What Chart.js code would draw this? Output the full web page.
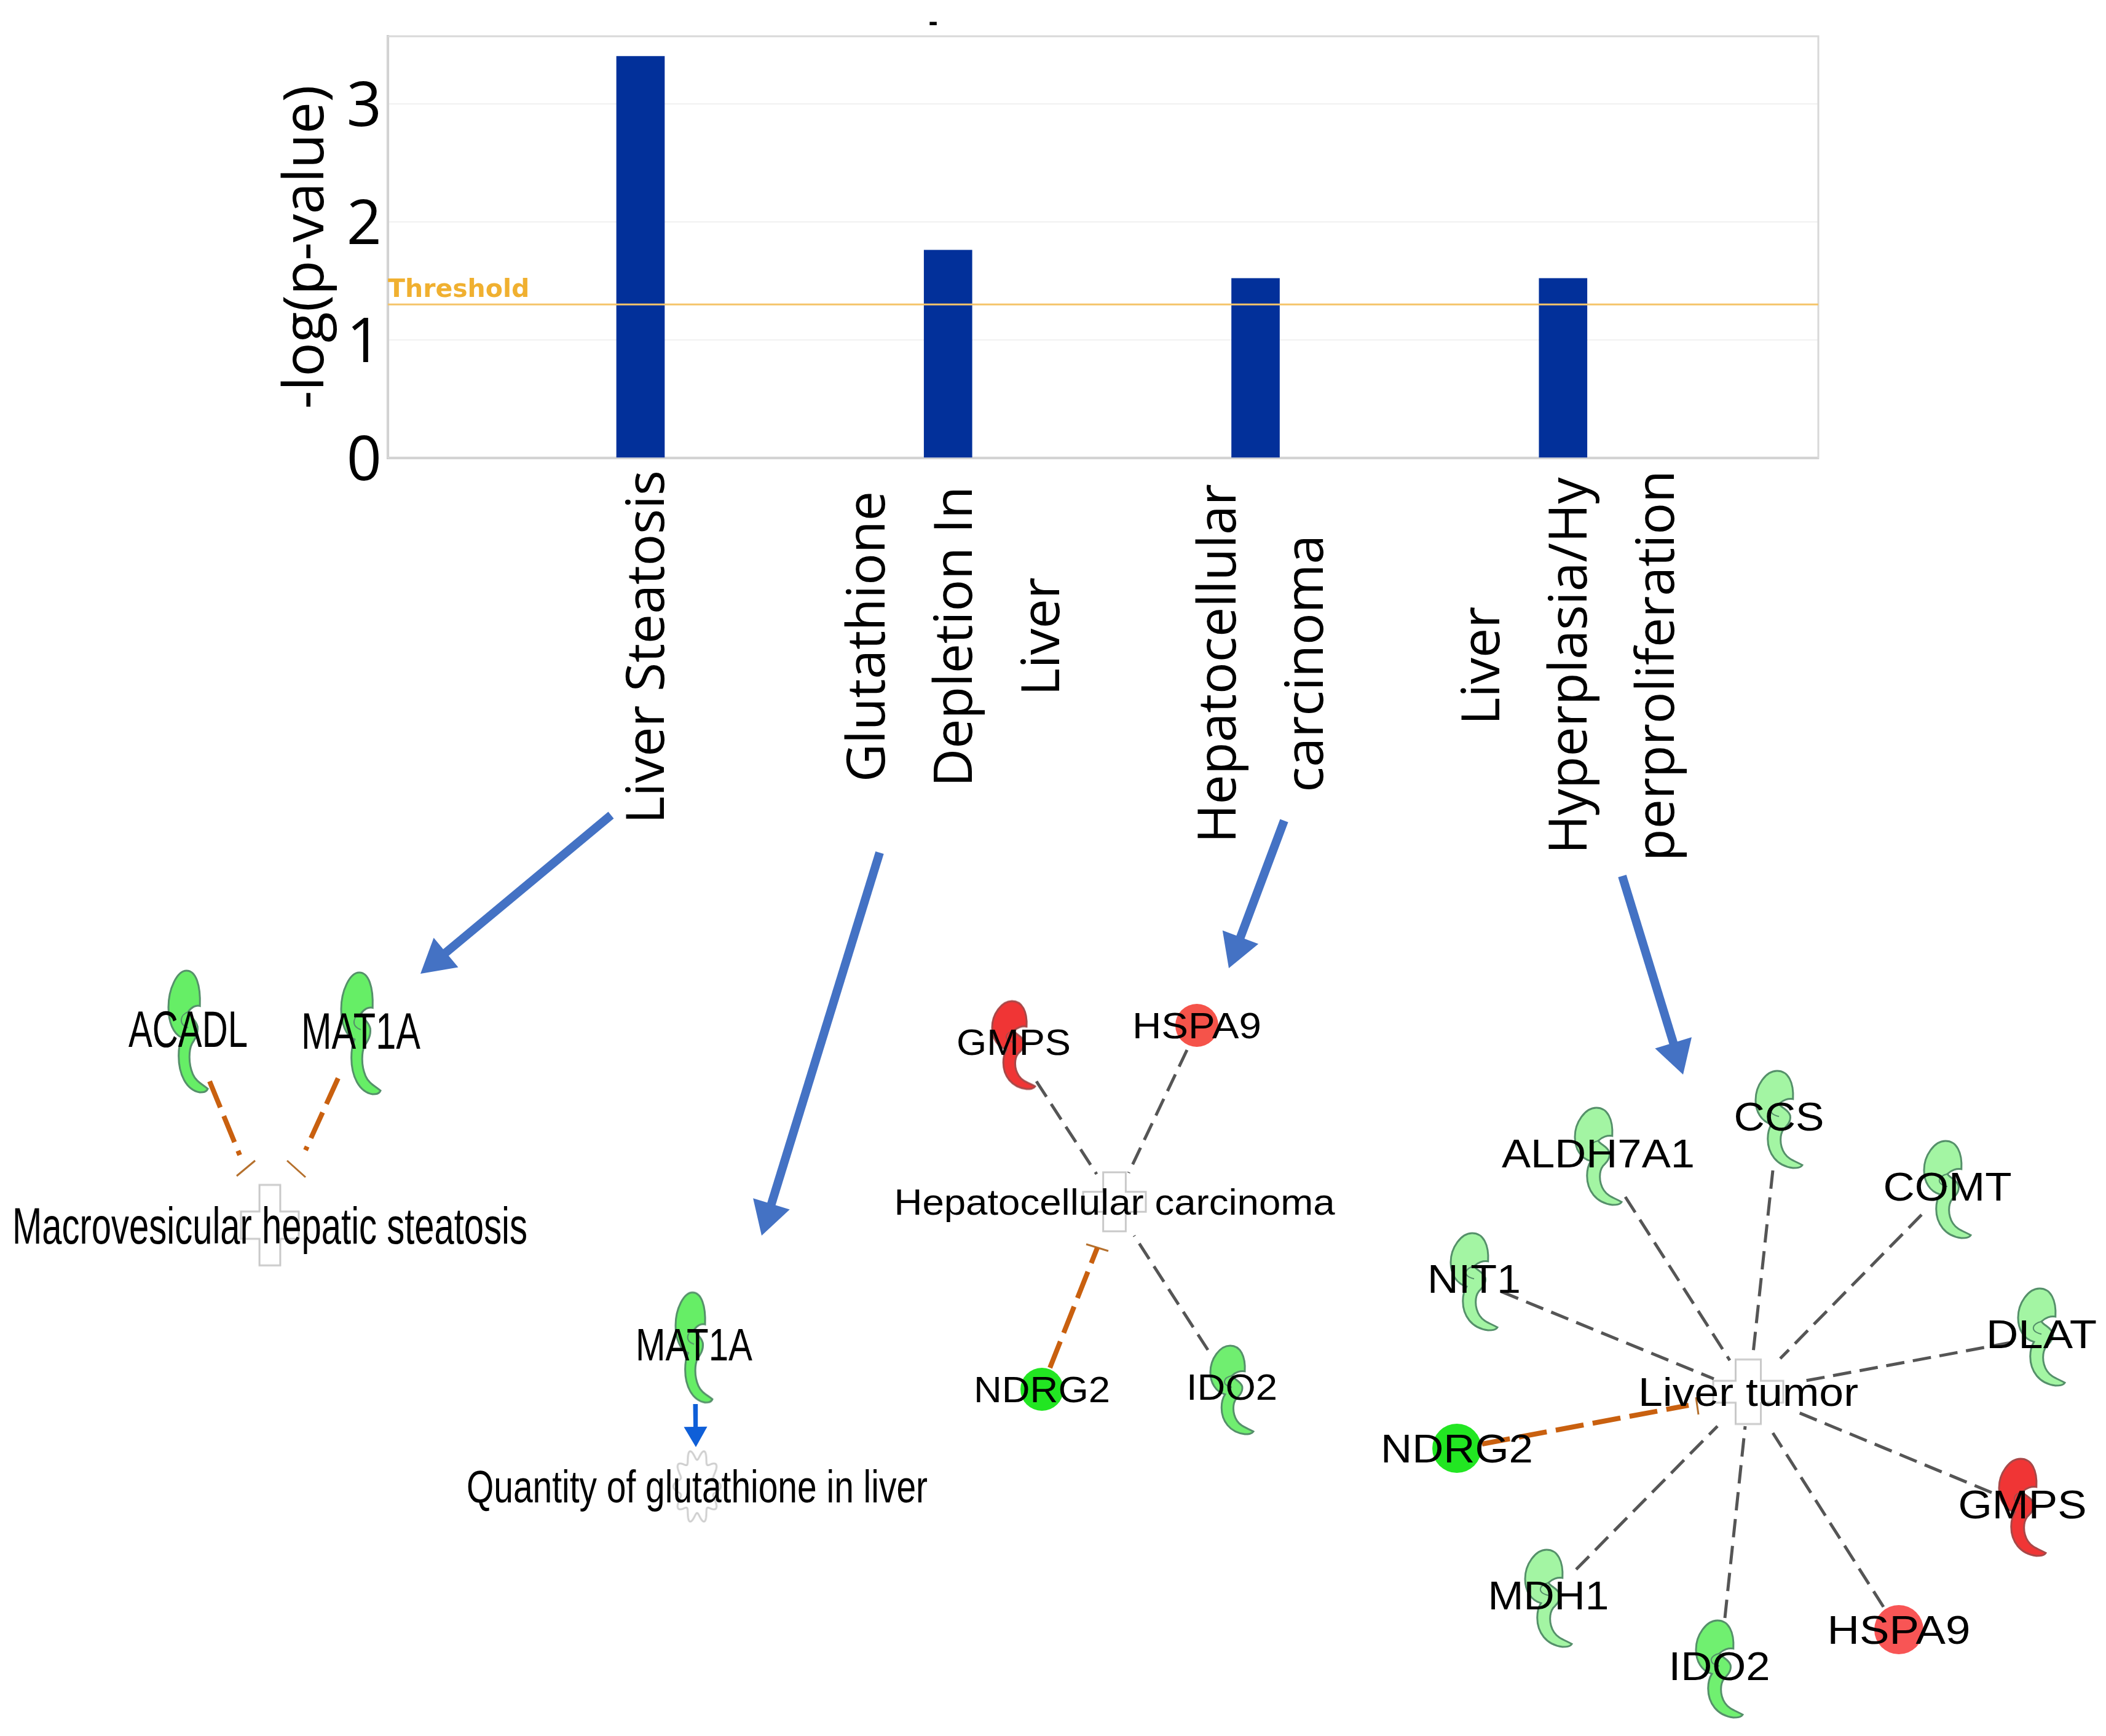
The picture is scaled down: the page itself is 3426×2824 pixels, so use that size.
<!DOCTYPE html>
<html>
<head>
<meta charset="utf-8">
<title>Liver toxicity functions</title>
<script src="https://cdn.jsdelivr.net/npm/chart.js@4"></script>
<style>
  html, body { margin: 0; padding: 0; background: #fff; }
  #page { position: relative; width: 3426px; height: 2824px; overflow: hidden; }
  canvas { position: absolute; left: 0; top: 0; }
</style>
</head>
<body>
<div id="page">
  <canvas id="networkChart" width="3426" height="2824"></canvas>
  <canvas id="barChart" width="3426" height="1420"></canvas>
</div>
<script>
// bar panel
const barCategories = [
  ['Liver Steatosis'],
  ['Glutathione', 'Depletion In', 'Liver'],
  ['Hepatocellular', 'carcinoma'],
  ['Liver', 'Hyperplasia/Hy', 'perproliferation']
];
const barValues = [3.40, 1.76, 1.52, 1.52];
const thresholdValue = 1.3;
const yTickValues = [0, 1, 2, 3];

// network panels, in picture pixels
const nodeNames = [
  'ACADL', 'MAT1A', 'Macrovesicular hepatic steatosis',
  'MAT1A', 'Quantity of glutathione in liver',
  'GMPS', 'HSPA9', 'Hepatocellular carcinoma', 'NDRG2', 'IDO2',
  'ALDH7A1', 'CCS', 'COMT', 'NIT1', 'DLAT', 'Liver tumor', 'NDRG2', 'GMPS', 'HSPA9', 'IDO2', 'MDH1'
];
const nodeX = [306, 587, 439, 1129, 1134, 1649, 1947, 1813, 1695, 2004, 2600, 2894, 3168, 2398, 3321, 2844, 2370, 3290, 3089, 2797, 2519];
const nodeY = [1678, 1681, 1993, 2192, 2418, 1700, 1668, 1955, 2260, 2261, 1881, 1821, 1935, 2085, 2175, 2264, 2356, 2452, 2651, 2715, 2600];
const nodeKinds = ['hook', 'hook', 'cross', 'hook', 'gear', 'hook', 'circle', 'cross', 'circle', 'hook', 'hook', 'hook', 'hook', 'hook', 'hook', 'cross', 'circle', 'hook', 'circle', 'hook', 'hook'];
const nodeFills = ['#66ee66', '#66ee66', '#ffffff', '#66ee66', '#ffffff', '#f03535', '#f5534a', '#ffffff', '#22e622', '#70ee70', '#a3f5a3', '#a3f5a3', '#a3f5a3', '#a3f5a3', '#a3f5a3', '#ffffff', '#22e622', '#f03535', '#f85555', '#70f070', '#a3f5a3'];
const nodeW = [64, 64, 94, 60, 77, 70, 70, 102, 70, 70, 76, 76, 76, 76, 76, 114, 80, 76, 80, 76, 76];
const nodeH = [198, 198, 131, 179, 120, 143, 70, 96, 70, 144, 158, 158, 158, 158, 158, 105, 80, 158, 80, 158, 158];
const labelWidths = [194, 194, 838, 190, 750, 186, 210, 717, 222, 148, 314, 147, 209, 152, 180, 358, 248, 209, 233, 165, 197];
const labelSizes = [84, 84, 84, 74, 74, 60, 60, 60, 60, 60, 65, 65, 65, 65, 65, 65, 65, 65, 65, 65, 65];

const grayEdges = [
  [1686, 1759, 1784, 1910], [1931, 1708, 1836, 1908], [1965, 2196, 1845, 2010],
  [2644, 1947, 2814, 2213], [2884, 1904, 2851, 2210], [3126, 1976, 2896, 2210],
  [2442, 2101, 2788, 2243], [3271, 2184, 2927, 2248], [3240, 2428, 2919, 2295],
  [3064, 2614, 2884, 2331], [2806, 2632, 2839, 2320], [2564, 2553, 2794, 2320]
];
const orangeEdges = [
  [341, 1759, 390, 1879], [550, 1754, 497, 1871], [1708, 2225, 1785, 2030], [2411, 2349, 2747, 2286]
];
const orangeBars = [
  [385, 1913, 415, 1888], [467, 1888, 497, 1915], [1767, 2024, 1803, 2035], [2759, 2273, 2763, 2301]
];
const bigArrows = [
  [994, 1326, 684, 1584], [1431, 1387, 1239, 2010], [2089, 1335, 1999, 1575], [2639, 1425, 2738, 1748]
];
const smallArrows = [[1131, 2284, 1132, 2354]];

function makeCanvas(w, h) {
  const c = document.createElement('canvas');
  c.width = w;
  c.height = h;
  return c;
}

function hookImage(w, h, fill) {
  const pad = 4;
  const c = makeCanvas(w + pad * 2, h + pad * 2);
  const ctx = c.getContext('2d');
  const px = (v) => pad + v * w;
  const py = (v) => pad + v * h;
  const curves = [
    [.70, 0, .82, .12, .80, .29], [.70, .28, .58, .30, .50, .34], [.55, .38, .70, .40, .74, .46],
    [.76, .52, .68, .56, .60, .60], [.52, .65, .50, .76, .62, .85], [.70, .91, .85, .93, 1, .97],
    [.96, 1, .88, 1, .8, 1], [.45, .98, .26, .85, .26, .70], [.26, .62, .30, .58, .34, .55],
    [.12, .52, 0, .42, 0, .30], [0, .15, .22, 0, .46, 0]
  ];
  const edge = fill === '#f03535' ? '#a84848' : '#55906a';
  ctx.beginPath();
  ctx.moveTo(px(.46), py(0));
  curves.forEach((q) => ctx.bezierCurveTo(px(q[0]), py(q[1]), px(q[2]), py(q[3]), px(q[4]), py(q[5])));
  ctx.closePath();
  ctx.fillStyle = fill;
  ctx.fill();
  ctx.lineWidth = 3;
  ctx.strokeStyle = edge;
  ctx.stroke();
  // fold line where the two lobes overlap
  ctx.beginPath();
  ctx.moveTo(px(.50), py(.34));
  ctx.bezierCurveTo(px(.30), py(.36), px(.24), py(.44), px(.50), py(.47));
  ctx.lineWidth = 2;
  ctx.stroke();
  return c;
}

function circleImage(w, fill) {
  const c = makeCanvas(w + 4, w + 4);
  const ctx = c.getContext('2d');
  ctx.beginPath();
  ctx.arc(w / 2 + 2, w / 2 + 2, w / 2, 0, Math.PI * 2);
  ctx.fillStyle = fill;
  ctx.fill();
  return c;
}

function crossImage(w, h) {
  const pad = 3;
  const c = makeCanvas(w + pad * 2, h + pad * 2);
  const ctx = c.getContext('2d');
  const a = w * 0.18;
  const b = h * 0.17;
  const cx = w / 2 + pad;
  const cy = h / 2 + pad;
  const pts = [[-a, -h / 2], [a, -h / 2], [a, -b], [w / 2, -b], [w / 2, b], [a, b], [a, h / 2], [-a, h / 2], [-a, b], [-w / 2, b], [-w / 2, -b], [-a, -b]];
  ctx.beginPath();
  pts.forEach((p, i) => (i ? ctx.lineTo(cx + p[0], cy + p[1]) : ctx.moveTo(cx + p[0], cy + p[1])));
  ctx.closePath();
  ctx.fillStyle = '#fff';
  ctx.fill();
  ctx.lineWidth = 3;
  ctx.strokeStyle = '#c9c9c9';
  ctx.stroke();
  return c;
}

function gearImage(w, h) {
  const pad = 3;
  const c = makeCanvas(w + pad * 2, h + pad * 2);
  const ctx = c.getContext('2d');
  ctx.beginPath();
  for (let i = 0; i <= 240; i++) {
    const t = (i / 240) * Math.PI * 2;
    const r = 0.86 + 0.14 * Math.cos(t * 10);
    const x = w / 2 + pad + Math.cos(t) * r * w / 2;
    const y = h / 2 + pad + Math.sin(t) * r * h / 2;
    if (i) ctx.lineTo(x, y); else ctx.moveTo(x, y);
  }
  ctx.closePath();
  ctx.fillStyle = '#fff';
  ctx.fill();
  ctx.lineWidth = 3;
  ctx.strokeStyle = '#cfcfcf';
  ctx.stroke();
  return c;
}

const nodeImages = nodeNames.map((name, i) => {
  if (nodeKinds[i] === 'hook') return hookImage(nodeW[i], nodeH[i], nodeFills[i]);
  if (nodeKinds[i] === 'circle') return circleImage(nodeW[i], nodeFills[i]);
  if (nodeKinds[i] === 'cross') return crossImage(nodeW[i], nodeH[i]);
  return gearImage(nodeW[i], nodeH[i]);
});

function edgeDataset(e, color, width, dash) {
  return {
    data: [{ x: e[0], y: e[1] }, { x: e[2], y: e[3] }],
    showLine: true,
    borderColor: color,
    borderWidth: width,
    borderDash: dash,
    pointRadius: 0
  };
}

function arrowDataset(e, color, width, head) {
  const dx = e[2] - e[0];
  const dy = e[3] - e[1];
  const len = Math.hypot(dx, dy);
  const baseX = e[2] - (dx / len) * head;
  const baseY = e[3] - (dy / len) * head;
  return {
    data: [{ x: e[0], y: e[1] }, { x: baseX, y: baseY }],
    showLine: true,
    borderColor: color,
    borderWidth: width,
    pointStyle: 'triangle',
    pointRadius: [0, head],
    pointRotation: [0, (Math.atan2(dx, -dy) * 180) / Math.PI],
    pointBackgroundColor: color,
    pointBorderWidth: 0
  };
}

const nodeLabels = {
  id: 'nodeLabels',
  afterDatasetsDraw(chart) {
    const { ctx, scales } = chart;
    ctx.save();
    ctx.fillStyle = '#000';
    ctx.textAlign = 'center';
    ctx.textBaseline = 'alphabetic';
    nodeNames.forEach((name, i) => {
      const size = labelSizes[i];
      ctx.font = `${size}px "Liberation Sans"`;
      const fit = labelWidths[i] / ctx.measureText(name).width;
      const shift = nodeKinds[i] === 'hook' ? -5 : 0;
      ctx.save();
      ctx.translate(scales.x.getPixelForValue(nodeX[i]), scales.y.getPixelForValue(nodeY[i]) + shift + size * 0.358);
      ctx.scale(fit, 1);
      ctx.fillText(name, 0, 0);
      ctx.restore();
    });
    ctx.restore();
  }
};

new Chart(document.getElementById('networkChart'), {
  type: 'scatter',
  data: {
    datasets: [
      ...grayEdges.map((e) => edgeDataset(e, '#555555', 5, [30, 14])),
      ...orangeEdges.map((e) => edgeDataset(e, '#c9600f', 8, [46, 15])),
      ...orangeBars.map((e) => edgeDataset(e, '#b5702d', 3, [])),
      ...bigArrows.map((e) => arrowDataset(e, '#4472c4', 14, 36)),
      ...smallArrows.map((e) => arrowDataset(e, '#0f5fd8', 7, 22)),
      {
        data: nodeNames.map((name, i) => ({ x: nodeX[i], y: nodeY[i] })),
        pointStyle: nodeImages,
        pointRadius: 10,
        showLine: false
      }
    ]
  },
  options: {
    responsive: false,
    animation: false,
    events: [],
    layout: { padding: 0, autoPadding: false },
    plugins: { legend: { display: false }, tooltip: { enabled: false } },
    scales: {
      x: { type: 'linear', min: 0, max: 3426, display: false },
      y: { type: 'linear', min: 0, max: 2824, reverse: true, display: false }
    }
  },
  plugins: [nodeLabels]
});

const xMin = -0.8215;
const xMax = 3.83;
const labelGaps = [20, 46, 42, 20];

const plotFrame = {
  id: 'plotFrame',
  beforeDatasetsDraw(chart) {
    const { ctx, chartArea: a } = chart;
    ctx.save();
    ctx.strokeStyle = '#d8d8d8';
    ctx.lineWidth = 3;
    ctx.strokeRect(a.left, a.top, a.right - a.left, a.bottom - a.top);
    ctx.restore();
  }
};

const categoryLabels = {
  id: 'categoryLabels',
  afterDraw(chart) {
    const { ctx, chartArea: a, scales } = chart;
    ctx.save();
    ctx.fillStyle = '#000';
    ctx.font = '86px "Open Sans"';
    ctx.textAlign = 'center';
    ctx.textBaseline = 'middle';
    barCategories.forEach((lines, i) => {
      const widest = Math.max(...lines.map((t) => ctx.measureText(t).width));
      const mid = a.bottom + labelGaps[i] + widest / 2;
      lines.forEach((t, k) => {
        ctx.save();
        ctx.translate(scales.x.getPixelForValue(i) + 14 + (k - (lines.length - 1) / 2) * 142, mid);
        ctx.rotate(-Math.PI / 2);
        ctx.fillText(t, 0, 0);
        ctx.restore();
      });
    });

    // threshold caption and the stray title dash
    ctx.fillStyle = '#f0b030';
    ctx.font = 'bold 41px "DejaVu Sans"';
    ctx.textAlign = 'left';
    ctx.textBaseline = 'alphabetic';
    ctx.fillText('Threshold', a.left, scales.y.getPixelForValue(thresholdValue) - 12);
    ctx.fillStyle = '#000';
    ctx.font = 'bold 44px "Open Sans"';
    ctx.textAlign = 'center';
    ctx.fillText('-', 1518, 50);
    ctx.restore();
  }
};

new Chart(document.getElementById('barChart'), {
  type: 'bar',
  data: {
    datasets: [
      {
        type: 'line',
        order: 0,
        data: [{ x: xMin, y: thresholdValue }, { x: xMax, y: thresholdValue }],
        borderColor: '#f5c469',
        borderWidth: 3,
        pointRadius: 0
      },
      {
        type: 'bar',
        order: 1,
        data: barValues.map((v, i) => ({ x: i, y: v })),
        backgroundColor: '#02309a',
        barThickness: 78
      }
    ]
  },
  options: {
    responsive: false,
    animation: false,
    events: [],
    layout: { padding: { left: 445, top: 59, right: 468, bottom: 0 }, autoPadding: false },
    plugins: { legend: { display: false }, tooltip: { enabled: false } },
    scales: {
      x: {
        type: 'linear',
        min: xMin,
        max: xMax,
        offset: false,
        grid: { display: false, offset: false },
        border: { color: '#bdbdbd', width: 4 },
        ticks: { display: false },
        afterFit: (scale) => { scale.height = 675; }
      },
      y: {
        min: 0,
        max: 3.57,
        afterBuildTicks: (scale) => { scale.ticks = yTickValues.map((v) => ({ value: v })); },
        ticks: {
          color: '#000',
          padding: 10,
          labelOffset: 8,
          font: { family: '"Open Sans"', size: 100 }
        },
        grid: { color: '#f1f1f1', lineWidth: 2, drawTicks: false },
        border: { color: '#bdbdbd', width: 4 },
        title: {
          display: true,
          text: '-log(p-value)',
          color: '#000',
          padding: 0,
          font: { family: '"Open Sans"', size: 92 }
        },
        afterFit: (scale) => {
          scale.width = 186;
          scale.paddingTop = 0;
          scale.paddingBottom = 0;
        }
      }
    }
  },
  plugins: [plotFrame, categoryLabels]
});
</script>
</body>
</html>
